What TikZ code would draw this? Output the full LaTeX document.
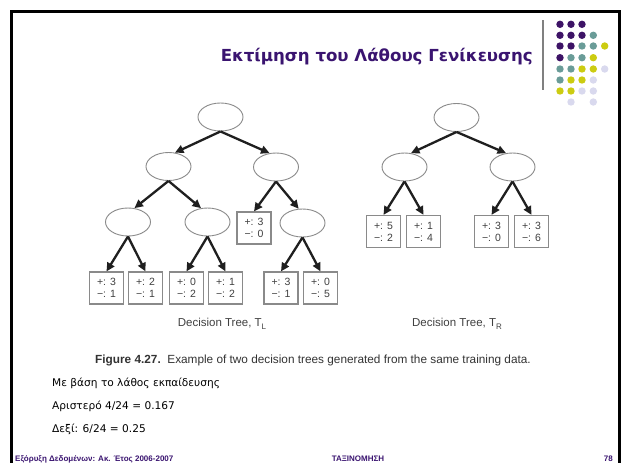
\documentclass[tikz,border=0pt]{standalone}
\usepackage{fontspec}
\setmainfont{DejaVu Sans}
\newfontfamily\arialf{Liberation Sans}
\usetikzlibrary{arrows.meta,shapes.geometric}
\definecolor{titlepurple}{HTML}{3A1470}
\definecolor{dotP}{HTML}{3D1366}
\definecolor{dotT}{HTML}{6A9C98}
\definecolor{dotY}{HTML}{CCCC11}
\definecolor{dotL}{HTML}{D9D9EE}
\definecolor{edgegray}{HTML}{8A8A8A}
\begin{document}
\begin{tikzpicture}[x=1pt,y=-1pt,
  inner/.style={ellipse, draw=edgegray, line width=0.9pt, minimum width=45pt, minimum height=28pt, inner sep=0pt},
  leaf/.style={draw=edgegray, line width=1.2pt, minimum width=34pt, minimum height=32pt, inner sep=0pt, align=center, font=\arialf\fontsize{10.5}{12}\selectfont, text=black!75},
  arr/.style={-{Triangle[length=8.5pt,width=8pt]}, line width=2.3pt, black!88},
  treecap/.style={font=\arialf\fontsize{11.5}{13}\selectfont, text=black!75},
  body/.style={anchor=base west, inner sep=0pt, font=\fontsize{10.6}{13}\selectfont, text=black},
  foot/.style={font=\arialf\bfseries\fontsize{8}{9}\selectfont, text=titlepurple, inner sep=0pt},
  dot/.style={circle, inner sep=0pt, minimum size=7.4pt}
]
\useasboundingbox (0,0) rectangle (621,463);
\clip (0,0) rectangle (621,463);
\fill[white] (0,0) rectangle (621,463);
% frame
\draw[line width=2.6pt, black] (11.5,11.5) rectangle (619.5,490);
% title
\node[anchor=east, inner sep=0pt, font=\bfseries\fontsize{16.6}{19}\selectfont, text=titlepurple] (title) at (533,57) {Εκτίμηση του Λάθους Γενίκευσης};
\draw[line width=1.6pt, black!50] (543,20) -- (543,90);
% dots
\foreach \c/\x/\y in {
  dotP/560/24.3, dotP/571/24.3, dotP/582/24.3,
  dotP/560/35.3, dotP/571/35.3, dotP/582/35.3, dotT/593.3/35.3,
  dotP/560/46, dotP/571/46, dotT/582/46, dotT/593.3/46, dotY/604.7/46,
  dotP/560/57.7, dotT/571/57.7, dotT/582/57.7, dotY/593.3/57.7,
  dotT/560/69, dotT/571/69, dotY/582/69, dotY/593.3/69, dotL/604.7/69,
  dotT/560/80, dotY/571/80, dotY/582/80, dotL/593.3/80,
  dotY/560/91, dotY/571/91, dotL/582/91, dotL/593.3/91,
  dotL/571/102, dotL/593.3/102}
  \node[dot, fill=\c] at (\x,\y) {};
% left tree
\node[inner] (a) at (220.5,117) {};
\node[inner] (b) at (168.5,166.5) {};
\node[inner] (c) at (276,167) {};
\node[inner] (d) at (128,222) {};
\node[inner] (e) at (207.5,222) {};
\node[leaf] (f) at (254,228) {+: 3\\−: 0};
\node[inner] (g) at (302.5,223) {};
\node[leaf] (h1) at (106.5,288) {+: 3\\−: 1};
\node[leaf] (h2) at (145.5,288) {+: 2\\−: 1};
\node[leaf] (h3) at (186.5,288) {+: 0\\−: 2};
\node[leaf] (h4) at (225.5,288) {+: 1\\−: 2};
\node[leaf] (h5) at (281,288) {+: 3\\−: 1};
\node[leaf] (h6) at (320.5,288) {+: 0\\−: 5};
\draw[arr] (a.south) -- (b.65);
\draw[arr] (a.south) -- (c.115);
\draw[arr] (b.south) -- (d.65);
\draw[arr] (b.south) -- (e.115);
\draw[arr] (c.south) -- (f.north);
\draw[arr] (c.south) -- (g.105);
\draw[arr] (d.south) -- (h1.north);
\draw[arr] (d.south) -- (h2.north);
\draw[arr] (e.south) -- (h3.north);
\draw[arr] (e.south) -- (h4.north);
\draw[arr] (g.south) -- (h5.north);
\draw[arr] (g.south) -- (h6.north);
\node[treecap] (capL) at (222,324) {Decision Tree, T\raisebox{-2.5pt}{\fontsize{8}{8}\selectfont L}};
% right tree
\node[inner] (ra) at (456.5,117.5) {};
\node[inner] (rb) at (404.5,167) {};
\node[inner] (rc) at (512.5,167) {};
\node[leaf] (r1) at (383.5,231.5) {+: 5\\−: 2};
\node[leaf] (r2) at (423.5,231.5) {+: 1\\−: 4};
\node[leaf] (r3) at (491.5,231.5) {+: 3\\−: 0};
\node[leaf] (r4) at (531.5,231.5) {+: 3\\−: 6};
\draw[arr] (ra.south) -- (rb.65);
\draw[arr] (ra.south) -- (rc.115);
\draw[arr] (rb.south) -- (r1.north);
\draw[arr] (rb.south) -- (r2.north);
\draw[arr] (rc.south) -- (r3.north);
\draw[arr] (rc.south) -- (r4.north);
\node[treecap] (capR) at (457,324) {Decision Tree, T\raisebox{-2.5pt}{\fontsize{8}{8}\selectfont R}};
% figure caption
\node[font=\arialf\fontsize{11.8}{14}\selectfont, text=black!80] (fig) at (313,360) {\textbf{Figure 4.27.}\ \ Example of two decision trees generated from the same training data.};
% body text
\node[body] (t1) at (52,386) {Με βάση το λάθος εκπαίδευσης};
\node[body] (t2) at (52,409) {Αριστερό 4/24 = 0.167};
\node[body] (t3) at (52,432) {Δεξί: 6/24 = 0.25};
% footer
\node[foot, anchor=base west] (f1) at (15,461.5) {Εξόρυξη Δεδομένων: Ακ. Έτος 2006-2007};
\node[foot, anchor=base] (f2) at (358,461.5) {ΤΑΞΙΝΟΜΗΣΗ};
\node[foot, anchor=base east] (f3) at (613,461.5) {78};
\end{tikzpicture}
\end{document}
